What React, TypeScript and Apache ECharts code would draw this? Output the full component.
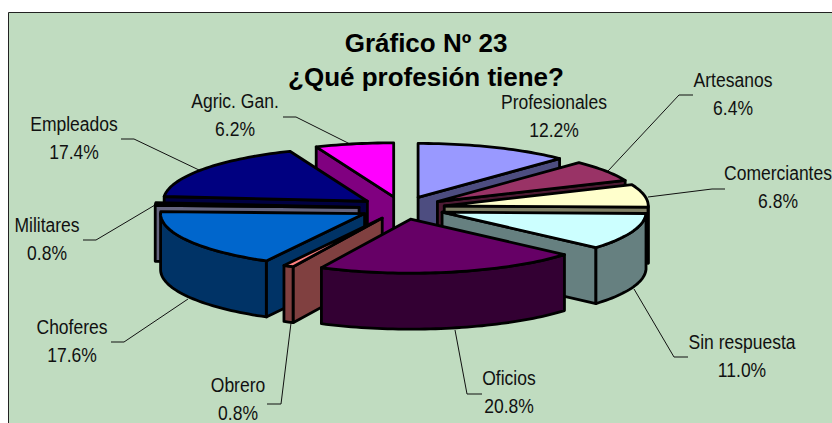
import React, { useEffect, useRef } from "react";
import * as echarts from "echarts";

const categories = ["Profesionales", "Artesanos", "Comerciantes", "Sin respuesta", "Oficios", "Obrero", "Choferes", "Militares", "Empleados", "Agric. Gan."];
const values = [12.2, 6.4, 6.8, 11.0, 20.8, 0.8, 17.6, 0.8, 17.4, 6.2];
const topColors = ["#9999FF", "#993366", "#FFFFCC", "#CCFFFF", "#660066", "#FF8080", "#0066CC", "#CCCCFF", "#000080", "#FF00FF"];
const wallColors = ["#4D4D80", "#4D1A33", "#808066", "#668080", "#330033", "#804040", "#003366", "#666680", "#000040", "#800080"];

const labelCentres = [[554, 102], [733, 80], [778, 173], [742, 342], [509, 378], [238, 385], [72, 327], [47, 225], [74, 124], [235, 101]];
const leaders = [
  null,
  [[693, 95], [679, 95], [608, 171]],
  [[725, 189], [712, 189], [648, 197]],
  [[688, 357], [674, 357], [634, 289]],
  [[482, 394], [467, 394], [455, 330]],
  [[267, 404], [281, 404], [291, 323]],
  [[111, 342], [124, 342], [188, 299]],
  [[83, 240], [96, 240], [155, 205]],
  [[121, 139], [134, 139], [199, 170]],
  [[283, 117], [296, 117], [352, 145]],
];
const titleLines = ["Gráfico Nº 23", "¿Qué profesión tiene?"];

const CX = 402, CY = 208, RX = 204, RY = 54, DEPTH = 56, EXPLODE = 43;
const rad = (d: number) => (d * Math.PI) / 180;
const total = values.reduce((a, b) => a + b, 0);

const slices = (() => {
  let acc = 0;
  return values.map((v, i) => {
    const a0 = (acc / total) * 360;
    acc += v;
    const a1 = (acc / total) * 360;
    const mid = (a0 + a1) / 2;
    return {
      i, a0, a1, mid,
      ax: CX + EXPLODE * Math.sin(rad(mid)),
      ay: CY - (EXPLODE * RY / RX) * Math.cos(rad(mid)),
    };
  });
})();
const drawOrder = [...slices].sort((p, q) => Math.cos(rad(q.mid)) - Math.cos(rad(p.mid)));

function sliceFaces(s: (typeof slices)[number]) {
  const pt = (a: number, dz = 0) => [s.ax + RX * Math.sin(rad(a)), s.ay - RY * Math.cos(rad(a)) + dz];
  const arc = (from: number, to: number, dz = 0) => {
    const n = Math.max(2, Math.ceil((to - from) / 1.5));
    const out: number[][] = [];
    for (let k = 0; k <= n; k++) out.push(pt(from + ((to - from) * k) / n, dz));
    return out;
  };
  const style = (fill: string) => ({ fill, stroke: "#000", lineWidth: 2.8, lineJoin: "round" });
  const wall = wallColors[s.i];
  const children: any[] = [];
  const radial = (a: number) => ({
    type: "polygon",
    shape: { points: [[s.ax, s.ay], pt(a), pt(a, DEPTH), [s.ax, s.ay + DEPTH]] },
    style: style(wall),
  });
  if (Math.sin(rad(s.a0)) < 0) children.push(radial(s.a0));
  if (Math.sin(rad(s.a1)) > 0) children.push(radial(s.a1));
  const w0 = Math.max(s.a0, 90), w1 = Math.min(s.a1, 270);
  if (w1 > w0) {
    children.push({
      type: "polygon",
      shape: { points: [...arc(w0, w1), ...arc(w0, w1, DEPTH).reverse()] },
      style: style(wall),
    });
  }
  children.push({
    type: "polygon",
    shape: { points: [[s.ax, s.ay], ...arc(s.a0, s.a1)] },
    style: style(topColors[s.i]),
  });
  return { type: "group", children };
}

const LABEL_FONT = '20px "Liberation Sans", Arial, sans-serif';

export default function App() {
  const ref = useRef<HTMLDivElement>(null);
  useEffect(() => {
    document.body.style.margin = "0";
    const chart = echarts.init(ref.current!, undefined, { renderer: "svg" });
    const graphics: any[] = [
      { type: "rect", z: -2, shape: { x: 8.5, y: 12.5, width: 840, height: 430 }, style: { fill: "#C0DCC0", stroke: "#222", lineWidth: 1 } },
    ];
    leaders.forEach((l) => {
      if (l) graphics.push({ type: "polyline", z: -1, shape: { points: l }, style: { fill: "none", stroke: "#111", lineWidth: 1 } });
    });
    titleLines.forEach((t, k) => {
      graphics.push({
        type: "text", z: 20, x: 426, y: 43 + k * 34,
        style: { text: t, font: 'bold 26px "Liberation Sans", Arial, sans-serif', fill: "#000", textAlign: "center", textVerticalAlign: "middle" },
      });
    });
    categories.forEach((c, i) => {
      const [x, y] = labelCentres[i];
      [c, values[i].toFixed(1) + "%"].forEach((t, k) => {
        graphics.push({
          type: "text", z: 20, x, y: y + k * 28, scaleX: 0.875,
          style: { text: t, font: LABEL_FONT, fill: "#111", textAlign: "center", textVerticalAlign: "middle" },
        });
      });
    });
    chart.setOption({
      animation: false,
      backgroundColor: "#fff",
      tooltip: { show: false },
      graphic: graphics,
      series: [
        {
          type: "custom",
          coordinateSystem: "none",
          silent: true,
          data: drawOrder.map((s) => ({ name: categories[s.i], value: values[s.i] })),
          renderItem: (params: any) => sliceFaces(drawOrder[params.dataIndex]),
        },
      ],
    });
    return () => chart.dispose();
  }, []);
  return <div ref={ref} style={{ width: 832, height: 423 }} />;
}
